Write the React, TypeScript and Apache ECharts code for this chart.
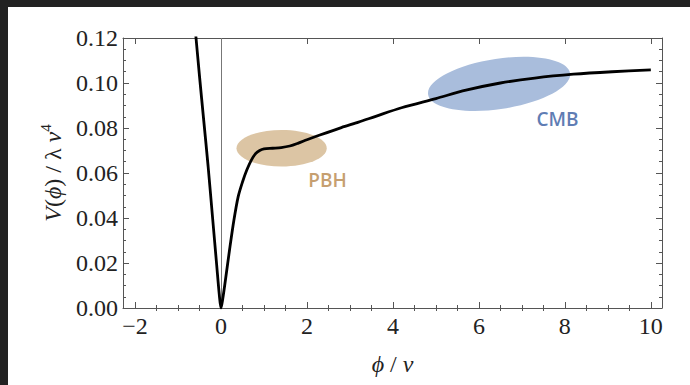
import React, { useEffect, useRef } from "react";
import * as echarts from "echarts";

// Potential curve V(phi)/(lambda v^4)
const phiValues = [-0.7, -0.6, -0.5, -0.4, -0.3, -0.2, -0.1, -0.04, 0, 0.04, 0.1, 0.2, 0.3, 0.4, 0.5, 0.6, 0.7, 0.8, 0.9, 1.0, 1.2, 1.4, 1.6, 1.8, 2.0, 2.3, 2.8, 3.2, 3.6, 4.2, 5.0, 5.7, 6.5, 7.3, 8.2, 9.1, 10.0];
const potentialValues = [0.145, 0.124, 0.103, 0.083, 0.063, 0.041, 0.019, 0.006, 0, 0.004, 0.012, 0.026, 0.039, 0.0495, 0.056, 0.0613, 0.0655, 0.0685, 0.07, 0.0707, 0.071, 0.0713, 0.072, 0.0733, 0.0748, 0.0769, 0.0802, 0.0826, 0.0852, 0.089, 0.0931, 0.0968, 0.1, 0.1022, 0.1039, 0.105, 0.1058];

// Highlighted regions (data units)
const regionNames = ["PBH", "CMB"];
const regionCenterPhi = [1.41, 6.47];
const regionCenterV = [0.071, 0.0996];
const regionHalfWidthPhi = [1.05, 1.67];
const regionHalfHeightV = [0.0081, 0.0112];
const regionTiltDeg = [0, 8.5];
const regionLabelPhi = [2.48, 7.83];
const regionLabelV = [0.0571, 0.084];

// Axes
const xMajorTicks = [-2, 0, 2, 4, 6, 8, 10];
const xTickLabels = ["\u22122", "0", "2", "4", "6", "8", "10"];
const xMin = -2.28;
const xMax = 10.26;
const yMin = 0;
const yMax = 0.12;
const yInterval = 0.02;

const xMinorTicks: number[] = [];
for (let i = 0; i < xMajorTicks.length; i++) {
  for (const d of [-1.5, -1, -0.5, 0.5, 1, 1.5]) {
    const v = xMajorTicks[i] + d;
    if (v > xMin && v < xMax && !xMajorTicks.includes(v) && !xMinorTicks.includes(v)) xMinorTicks.push(v);
  }
}

const SERIF = "'Liberation Serif', 'DejaVu Serif', serif";
const FRAME = "#555";
const TEXT = "#222";
const regionFill = ["#dcc5a4", "#a9bddc"];
const regionText = ["#c69f70", "#5f7db4"];

export default function App() {
  const ref = useRef<HTMLDivElement>(null);
  useEffect(() => {
    if (!ref.current) return;
    const chart = echarts.init(ref.current, null, { renderer: "svg" });
    const baseX = {
      type: "value",
      min: xMin,
      max: xMax,
      splitLine: { show: false },
    };
    const baseY = {
      type: "value",
      min: yMin,
      max: yMax,
      interval: yInterval,
      splitLine: { show: false },
    };
    const regionData = regionNames.map((_, i) => [
      regionCenterPhi[i],
      regionCenterV[i],
      regionHalfWidthPhi[i],
      regionHalfHeightV[i],
      regionTiltDeg[i],
      regionLabelPhi[i],
      regionLabelV[i],
    ]);
    chart.setOption({
      animation: false,
      backgroundColor: "#fff",
      grid: { left: 115, right: 28, top: 31, bottom: 77, containLabel: false },
      xAxis: [
        {
          ...baseX,
          position: "bottom",
          axisLine: { show: true, onZero: false, lineStyle: { color: FRAME, width: 1 } },
          axisTick: { show: true, inside: true, length: 6, customValues: xMajorTicks, lineStyle: { color: FRAME } },
          axisLabel: {
            customValues: xMajorTicks,
            formatter: (v: number) => {
              const idx = xMajorTicks.indexOf(Math.round(v));
              return idx >= 0 ? xTickLabels[idx] : "";
            },
            fontFamily: SERIF,
            fontSize: 24,
            color: TEXT,
            margin: 6,
          },
          name: "{i|\u03d5} / {i|v}",
          nameLocation: "middle",
          nameGap: 44,
          nameTextStyle: {
            fontFamily: SERIF,
            fontSize: 24,
            color: TEXT,
            rich: { i: { fontFamily: SERIF, fontSize: 24, fontStyle: "italic", color: TEXT } },
          },
        },
        {
          ...baseX,
          position: "bottom",
          axisLine: { show: false },
          axisTick: { show: true, inside: true, length: 3, customValues: xMinorTicks, lineStyle: { color: FRAME } },
          axisLabel: { show: false },
        },
        {
          ...baseX,
          position: "top",
          axisLine: { show: true, onZero: false, lineStyle: { color: FRAME, width: 1 } },
          axisTick: { show: true, inside: true, length: 6, customValues: xMajorTicks, lineStyle: { color: FRAME } },
          axisLabel: { show: false },
        },
        {
          ...baseX,
          position: "top",
          axisLine: { show: false },
          axisTick: { show: true, inside: true, length: 3, customValues: xMinorTicks, lineStyle: { color: FRAME } },
          axisLabel: { show: false },
        },
      ],
      yAxis: [
        {
          ...baseY,
          position: "left",
          axisLine: { show: true, onZero: false, lineStyle: { color: FRAME, width: 1 } },
          axisTick: { show: true, inside: true, length: 6, lineStyle: { color: FRAME } },
          minorTick: { show: true, splitNumber: 4, length: 3, lineStyle: { color: FRAME } },
          axisLabel: {
            formatter: (v: number) => v.toFixed(2),
            fontFamily: SERIF,
            fontSize: 24,
            color: TEXT,
            margin: 5,
          },
          name: "{i|V}({i|\u03d5}) / \u03bb {i|v}{s|4}",
          nameLocation: "middle",
          nameRotate: 90,
          nameGap: 55,
          nameTextStyle: {
            fontFamily: SERIF,
            fontSize: 24,
            color: TEXT,
            rich: {
              i: { fontFamily: SERIF, fontSize: 24, fontStyle: "italic", color: TEXT },
              s: { fontFamily: SERIF, fontSize: 15, color: TEXT, verticalAlign: "top", lineHeight: 30 },
            },
          },
        },
        {
          ...baseY,
          position: "right",
          axisLine: { show: true, onZero: false, lineStyle: { color: FRAME, width: 1 } },
          axisTick: { show: true, inside: true, length: 6, lineStyle: { color: FRAME } },
          minorTick: { show: true, splitNumber: 4, length: 3, lineStyle: { color: FRAME } },
          axisLabel: { show: false },
        },
      ],
      series: [
        {
          type: "custom",
          xAxisIndex: 0,
          yAxisIndex: 0,
          z: 1,
          silent: true,
          encode: { x: 0, y: 1 },
          data: regionData,
          renderItem: (params: any, api: any) => {
            const i = params.dataIndex;
            const c = api.coord([api.value(0), api.value(1)]);
            const s = api.size([api.value(2), api.value(3)]);
            const l = api.coord([api.value(5), api.value(6)]);
            return {
              type: "group",
              children: [
                {
                  type: "ellipse",
                  x: c[0],
                  y: c[1],
                  rotation: (api.value(4) * Math.PI) / 180,
                  shape: { cx: 0, cy: 0, rx: s[0], ry: s[1] },
                  style: { fill: regionFill[i] },
                },
                {
                  type: "text",
                  x: l[0],
                  y: l[1],
                  style: {
                    text: regionNames[i],
                    fill: regionText[i],
                    fontFamily: "'Open Sans', sans-serif",
                    fontSize: 19,
                    fontWeight: 600,
                    align: "center",
                    verticalAlign: "middle",
                  },
                },
              ],
            };
          },
        },
        {
          type: "line",
          xAxisIndex: 0,
          yAxisIndex: 0,
          z: 3,
          data: phiValues.map((p, i) => [p, potentialValues[i]]),
          showSymbol: false,
          smooth: 0.3,
          clip: true,
          silent: true,
          lineStyle: { color: "#000", width: 2.8 },
          markLine: {
            silent: true,
            symbol: ["none", "none"],
            label: { show: false },
            lineStyle: { color: "#777", width: 1, type: "solid" },
            data: [{ xAxis: 0 }],
            z: 2,
          },
        },
      ],
    });
    return () => chart.dispose();
  }, []);
  return (
    <div style={{ position: "fixed", left: 0, top: 0, width: 690, height: 385, background: "#222" }}>
      <div ref={ref} style={{ position: "absolute", left: 8, top: 7, width: 682, height: 378, background: "#fff" }} />
    </div>
  );
}
